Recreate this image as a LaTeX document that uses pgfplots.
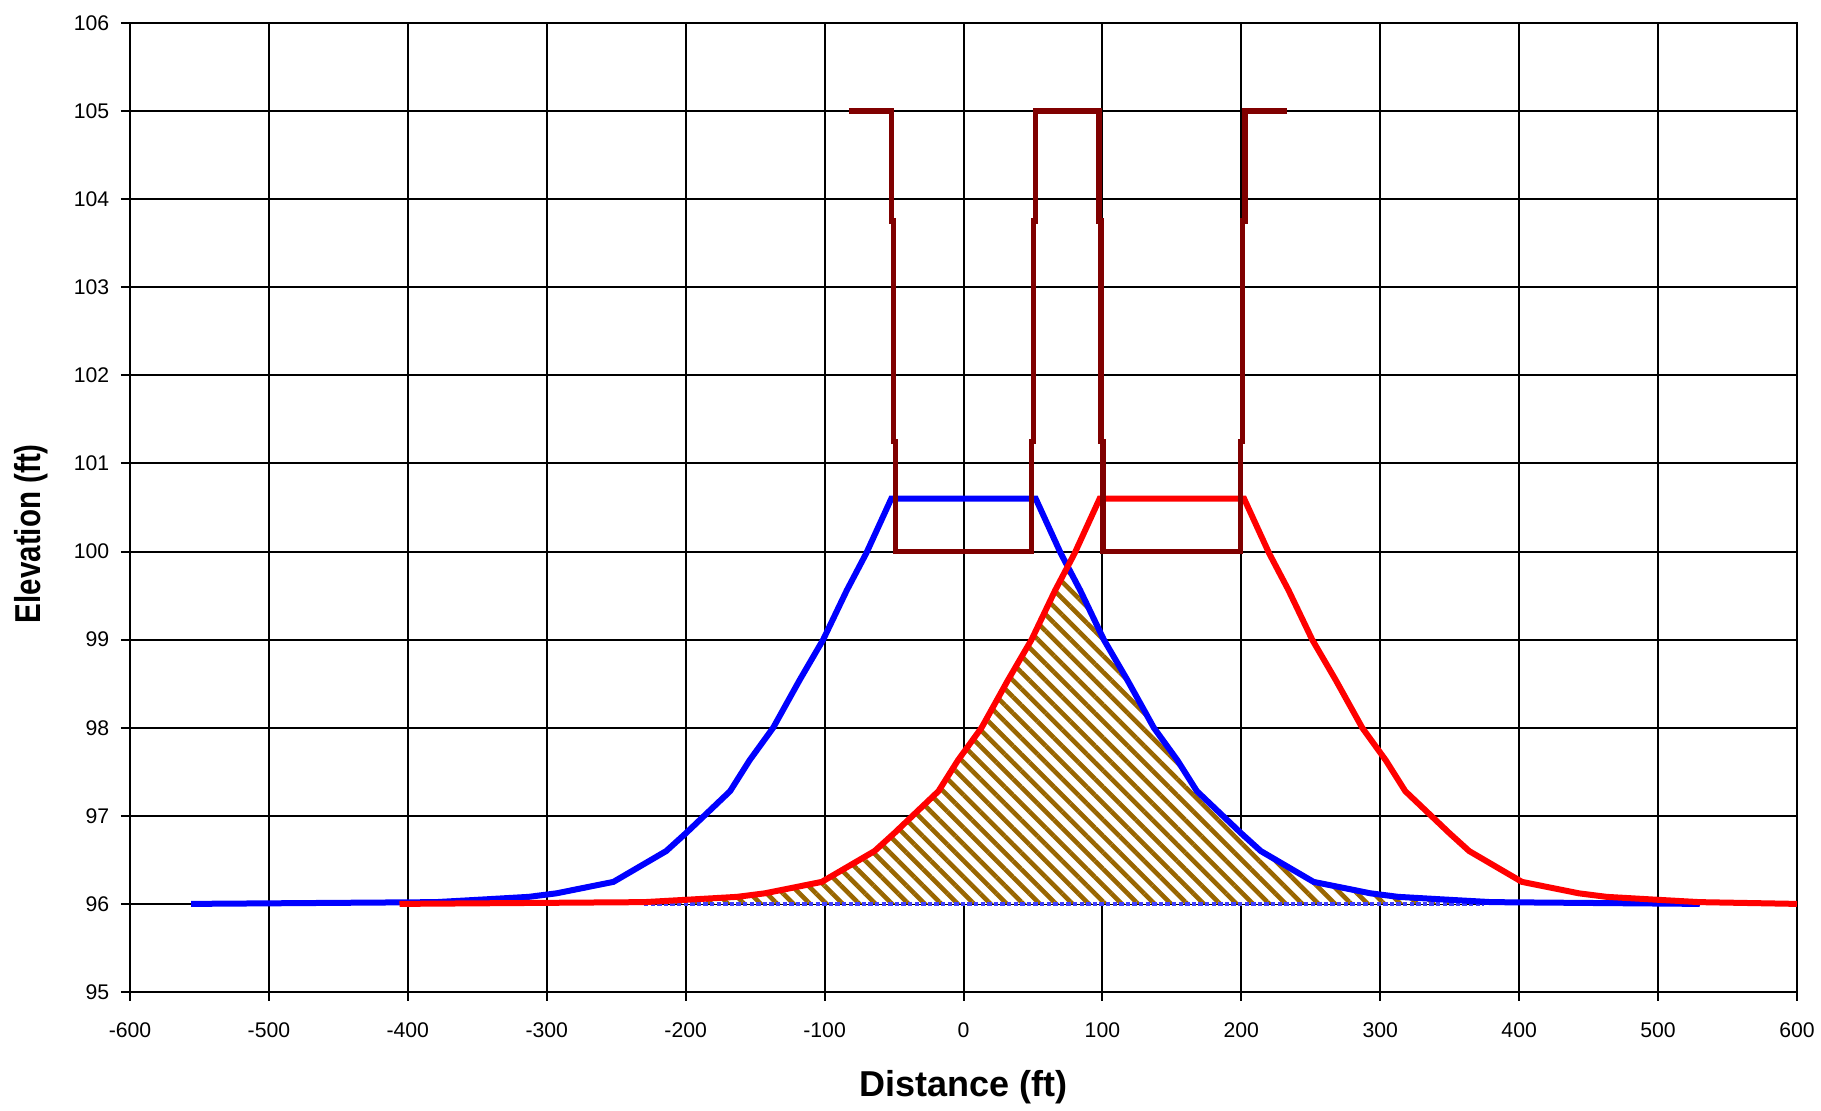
\documentclass[border=0pt]{standalone}
\usepackage{fontspec}
\setmainfont{Liberation Sans}
\usepackage{pgfplots}
\pgfplotsset{compat=1.18}
\usetikzlibrary{patterns.meta}
\definecolor{maroonline}{RGB}{128,0,0}
\definecolor{hatchbrown}{RGB}{153,102,0}
\begin{document}
\begin{tikzpicture}
\begin{axis}[
  at={(0,0)}, anchor=south west,
  width=416.75pt, height=242.25pt, scale only axis,
  xmin=-600, xmax=600, ymin=95, ymax=106,
  xtick distance=100, ytick distance=1,
  grid=major,
  major grid style={black, line width=0.5pt},
  axis line style={black, line width=0.6pt},
  tick align=outside, major tick length=2.25pt,
  tick style={black, line width=0.5pt},
  xtick pos=bottom, ytick pos=left,
  /pgf/number format/assume math mode=true,
  /pgf/number format/1000 sep={},
  tick label style={font=\fontsize{5.3}{6}\selectfont},
  yticklabel style={anchor=east, inner sep=0pt, xshift=-2.75pt},
  xticklabel style={anchor=north, inner sep=0pt, yshift=-5.3pt},
  xlabel={Distance (ft)},
  ylabel={\scalebox{0.82}[1]{Elevation (ft)}},
  label style={font=\fontsize{9}{10}\selectfont\bfseries},
  xlabel style={at={(axis description cs:0.5,-0.098)}, anchor=center},
  ylabel style={at={(axis description cs:-0.0594,0.473)}, anchor=center},
  clip=true,
]
% hatched overlap region
\addplot[draw=none, fill=white, postaction={pattern={Lines[angle=-45, distance=2.9pt, line width=1.15pt]}, pattern color=hatchbrown}] coordinates {
(-230,96.02) (-196,96.05) (-163,96.08) (-143,96.12) (-102,96.25) (-64,96.6) (-50,96.8) (-34,97.04) (-18,97.28) (-4,97.63) (13,98) (32,98.54) (49,99) (66,99.56) (75,99.83)
(84,99.56) (101,99) (118,98.54) (137,98) (154,97.63) (168,97.28) (184,97.04) (200,96.8) (214,96.6) (252,96.25) (293,96.12) (313,96.08) (346,96.05) (380,96.02) (380,96) (-230,96)
} -- cycle;
% baseline
\addplot[blue!75!white, line width=0.95pt, dash pattern=on 1.1pt off 0.55pt] coordinates {(-230,96) (375,96)};
% blue profile
\addplot[blue, line width=1.5pt] coordinates {
(-556,96) (-380,96.02) (-346,96.05) (-313,96.08) (-293,96.12) (-252,96.25) (-214,96.6) (-200,96.8) (-184,97.04) (-168,97.28) (-154,97.63) (-137,98) (-118,98.54) (-101,99) (-84,99.56) (-70,99.98) (-52,100.6)
(52,100.6) (70,99.98) (84,99.56) (101,99) (118,98.54) (137,98) (154,97.63) (168,97.28) (184,97.04) (200,96.8) (214,96.6) (252,96.25) (293,96.12) (313,96.08) (346,96.05) (380,96.02) (530,96)
};
% red profile
\addplot[red, line width=1.5pt] coordinates {
(-406,96) (-230,96.02) (-196,96.05) (-163,96.08) (-143,96.12) (-102,96.25) (-64,96.6) (-50,96.8) (-34,97.04) (-18,97.28) (-4,97.63) (13,98) (32,98.54) (49,99) (66,99.56) (80,99.98) (98,100.6)
(202,100.6) (220,99.98) (234,99.56) (251,99) (268,98.54) (287,98) (304,97.63) (318,97.28) (334,97.04) (350,96.8) (364,96.6) (402,96.25) (443,96.12) (463,96.08) (496,96.05) (530,96.02) (600,96)
};
% structure outline
\addplot[maroonline, line width=1.35pt] coordinates {
(-82.5,105) (-52,105) (-52,103.75) (-50.5,103.75) (-50.5,101.25) (-49,101.25) (-49,100) (49,100) (49,101.25) (50.5,101.25) (50.5,103.75) (52,103.75) (52,105)
(97.5,105) (97.5,103.75) (99,103.75) (99,101.25) (100.5,101.25) (100.5,100) (199.5,100) (199.5,101.25) (201,101.25) (201,103.75) (202.5,103.75) (202.5,105) (233,105)
};
\end{axis}
\pgfresetboundingbox
\path[use as bounding box] (-32.5pt,-29.75pt) rectangle (422.75pt,248pt);
\end{tikzpicture}
\end{document}
